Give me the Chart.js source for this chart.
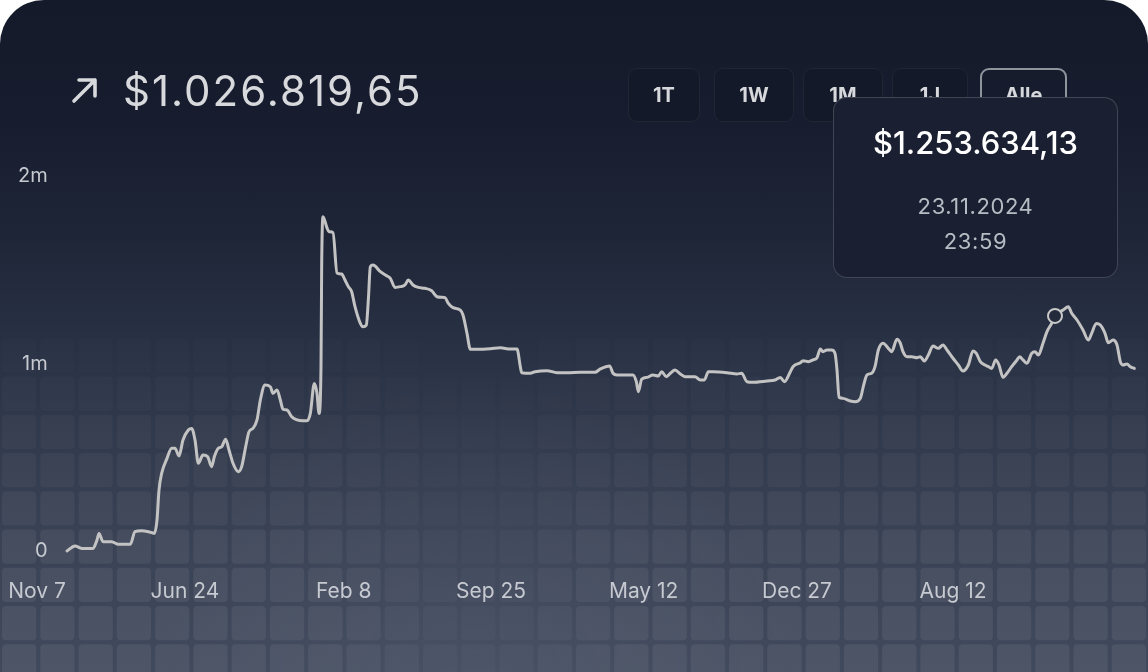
<!DOCTYPE html>
<html>
<head>
<meta charset="utf-8">
<script src="https://cdn.jsdelivr.net/npm/chart.js@4.4.1/dist/chart.umd.min.js"></script>
<style>
  html, body { margin: 0; padding: 0; background: #fff; }
  body { width: 1148px; height: 672px; overflow: hidden; font-family: Inter, "Noto Sans", sans-serif; }
  .card { position: absolute; left: 0; top: 0; width: 1148px; height: 672px; border-radius: 44px 44px 0 0; overflow: hidden;
    background: linear-gradient(180deg, #141a2a 0px, #171d2e 120px, #1e2537 230px, #283043 340px, #323a4d 440px, #3a4255 540px, #41495c 672px); }
  #bg, #chart { position: absolute; left: 0; top: 0; }
  .total { position: absolute; left: 123px; top: 66px; font-size: 42px; line-height: 50px; color: #d8d9dc; letter-spacing: 2px; font-weight: 400; }
  .arrow { position: absolute; left: 71px; top: 77px; }
  .btn { position: absolute; top: 68px; height: 54px; box-sizing: border-box; border-radius: 9px; border: 1px solid rgba(255,255,255,0.06);
    background: rgba(10,14,26,0.25); color: #d6d8dc; font-weight: 700; font-size: 20px; line-height: 52px; text-align: center; }
  .btn.active { border: 2px solid #8f939b; background: transparent; line-height: 50px; }
  .tip { position: absolute; left: 833px; top: 97px; width: 285px; height: 181px; box-sizing: border-box; border-radius: 14px;
    border: 1px solid rgba(255,255,255,0.17); background: #1a2031; text-align: center; }
  .tip .val { position: absolute; left: 0; right: 0; top: 26px; font-size: 31px; line-height: 38px; font-weight: 500; color: #fff; }
  .tip .d { position: absolute; left: 0; right: 0; font-size: 22px; line-height: 26px; color: #b7bbc3; letter-spacing: 0.6px; }
</style>
</head>
<body>
<div class="card">
  <canvas id="bg" width="1148" height="672"></canvas>
  <svg class="arrow" width="28" height="27" viewBox="0 0 28 27">
    <path d="M3 24 L24 3 M8 3 L24 3 L24 19" fill="none" stroke="#d8d9dc" stroke-width="3.6" stroke-linecap="round" stroke-linejoin="round"/>
  </svg>
  <div class="total" id="total"></div>
  <div id="buttons"></div>
  <canvas id="chart" width="1148" height="672"></canvas>
  <div class="tip">
    <div class="val" id="tipVal"></div>
    <div class="d" id="tipDate" style="top:95px"></div>
    <div class="d" id="tipTime" style="top:130px"></div>
  </div>
</div>
<script>
// day offsets (days after the first axis tick) and portfolio value in thousands of $
const days = [45, 57, 67, 84, 90, 93, 99, 112, 122, 140, 147, 157, 167, 176, 180, 183, 187, 195, 202, 207,
  213, 219, 227, 232, 237, 242, 249, 256, 262, 266, 272, 277, 283, 288, 294, 302, 307, 313, 318, 324,
  330, 335, 342, 350, 354, 360, 365, 369, 375, 382, 390, 399, 405, 410, 416, 420, 423, 426, 427, 429,
  435, 438, 444, 450, 457, 462, 467, 472, 477, 485, 489, 494, 497, 500, 504, 515, 525, 530, 537, 545,
  552, 557, 564, 572, 582, 592, 600, 607, 612, 617, 624, 635, 639, 645, 650, 660, 680, 695, 710, 720,
  725, 727, 740, 747, 765, 780, 795, 815, 837, 845, 859, 864, 870, 894, 899, 902, 907, 915, 924, 932,
  937, 944, 950, 957, 965, 972, 987, 995, 1001, 1007, 1014, 1035, 1050, 1057, 1065, 1074, 1095, 1107, 1115, 1121,
  1130, 1134, 1145, 1149, 1157, 1164, 1170, 1175, 1179, 1185, 1192, 1197, 1200, 1203, 1209, 1220, 1227, 1235, 1240, 1245,
  1252, 1257, 1262, 1269, 1277, 1282, 1290, 1295, 1299, 1305, 1312, 1320, 1325, 1331, 1337, 1344, 1352, 1359, 1365, 1374,
  1382, 1389, 1397, 1404, 1409, 1415, 1422, 1427, 1432, 1438, 1443, 1449, 1455, 1462, 1470, 1474, 1479, 1485, 1492, 1497,
  1502, 1509, 1515, 1522, 1527, 1539, 1547, 1552, 1560, 1569, 1577, 1582, 1589, 1595, 1602, 1607, 1614, 1620, 1625, 1629,
  1635, 1640, 1646];
const values = [0, 27, 14, 14, 59, 94, 50, 50, 36, 36, 103, 108, 103, 94, 165, 325, 414, 494, 548, 548,
  507, 592, 645, 654, 592, 468, 512, 503, 450, 503, 548, 556, 596, 539, 468, 423, 450, 556, 636, 654,
  699, 805, 885, 876, 841, 859, 805, 756, 752, 716, 699, 695, 695, 734, 894, 841, 734, 983, 1516, 1783,
  1723, 1703, 1698, 1483, 1477, 1445, 1410, 1383, 1303, 1214, 1196, 1205, 1339, 1516, 1525, 1490, 1467, 1454, 1406, 1410,
  1419, 1445, 1419, 1406, 1401, 1388, 1356, 1353, 1351, 1321, 1298, 1285, 1259, 1161, 1076, 1076, 1079, 1084, 1077, 1077,
  983, 951, 948, 956, 962, 951, 951, 953, 953, 971, 987, 948, 939, 939, 903, 850, 916, 926, 939, 933,
  956, 930, 948, 965, 944, 930, 930, 912, 912, 956, 956, 951, 944, 948, 903, 900, 907, 912, 926, 903,
  956, 983, 1004, 1015, 1010, 1019, 1031, 1077, 1063, 1072, 1072, 1054, 965, 820, 814, 800, 796, 814, 885, 939,
  948, 983, 1072, 1108, 1081, 1063, 1129, 1108, 1063, 1036, 1036, 1031, 1036, 1013, 1045, 1093, 1081, 1099, 1072, 1028,
  992, 960, 992, 1067, 1054, 1010, 992, 983, 974, 1019, 992, 926, 948, 983, 1019, 1036, 1019, 1001, 1054, 1063,
  1045, 1108, 1170, 1214, 1253.634, 1285, 1303, 1268, 1232, 1179, 1125, 1161, 1214, 1205, 1161, 1111, 1125, 1099, 1010, 992,
  997, 983, 974];

const tickDays = [0, 222, 460, 681, 910, 1140, 1374];
const tickLabels = ["Nov 7", "Jun 24", "Feb 8", "Sep 25", "May 12", "Dec 27", "Aug 12"];
const yTicks = [0, 1000, 2000];
const yTickLabels = ["0", "1m", "2m"];

const ranges = ["1T", "1W", "1M", "1J", "Alle"];
const activeRange = "Alle";

const currentTotal = 1026819.65;
const hoverDay = 1527;
const hoverAmount = 1253634.13;
const hoverDate = "23.11.2024";
const hoverTime = "23:59";

function fmtMoney(n) {
  const parts = n.toFixed(2).split(".");
  return "$" + parts[0].replace(/\B(?=(\d{3})+(?!\d))/g, ".") + "," + parts[1];
}

document.getElementById("total").textContent = fmtMoney(currentTotal);
document.getElementById("tipVal").textContent = fmtMoney(hoverAmount);
document.getElementById("tipDate").textContent = hoverDate;
document.getElementById("tipTime").textContent = hoverTime;

// range buttons
const btnPos = [[628, 72], [714, 80], [803, 80], [892, 76], [980, 87]];
document.getElementById("buttons").innerHTML = ranges.map((r, i) =>
  `<div class="btn${r === activeRange ? " active" : ""}" style="left:${btnPos[i][0]}px;width:${btnPos[i][1]}px">${r}</div>`
).join("");

// background tiles
const bg = document.getElementById("bg").getContext("2d");
const pitch = 1148 / 30;
for (let r = -1; r < 19; r++) {
  const y0 = 30 + r * pitch + 2;
  const cy = y0 + pitch / 2;
  let a = Math.min(Math.max((cy - 300) / 280, 0), 1);
  if (a <= 0) continue;
  for (let c = 0; c < 30; c++) {
    const x0 = c * pitch + 2;
    const cx = x0 + pitch / 2;
    const dim = 1 - 0.65 * Math.exp(-Math.pow((cx - 480) / 110, 2));
    bg.fillStyle = `rgba(255,255,255,${0.065 * a * dim})`;
    bg.beginPath();
    bg.roundRect(x0, y0, pitch - 4, pitch - 4, 4);
    bg.fill();
  }
}
const glow = bg.createRadialGradient(480, 700, 10, 480, 700, 320);
glow.addColorStop(0, "rgba(150,160,185,0.10)");
glow.addColorStop(1, "rgba(150,160,185,0)");
bg.fillStyle = glow;
bg.fillRect(0, 300, 1148, 372);

Chart.defaults.font.family = "Inter";
const hoverIdx = days.indexOf(hoverDay);

new Chart(document.getElementById("chart"), {
  type: "line",
  data: {
    datasets: [{
      data: days.map((d, i) => ({ x: d, y: values[i] })),
      borderColor: "#c3c3c3",
      borderWidth: 3,
      borderCapStyle: "round",
      borderJoinStyle: "round",
      cubicInterpolationMode: "monotone",
      fill: false,
      clip: false,
      pointRadius: ctx => ctx.dataIndex === hoverIdx ? 7 : 0,
      pointBorderWidth: 2,
      pointBorderColor: "#c8c8c8",
      pointBackgroundColor: "#232a3c"
    }]
  },
  options: {
    responsive: false,
    animation: false,
    events: [],
    layout: { padding: { top: 176, left: 0, right: 0, bottom: 0 } },
    plugins: { legend: { display: false }, tooltip: { enabled: false } },
    scales: {
      x: {
        type: "linear",
        min: -55.5,
        max: 1666.5,
        grid: { display: false },
        border: { display: false },
        afterBuildTicks: s => { s.ticks = tickDays.map(v => ({ value: v })); },
        afterFit: s => { s.height = 121; s.paddingLeft = 0; s.paddingRight = 0; },
        ticks: {
          autoSkip: false,
          maxRotation: 0,
          padding: 20,
          color: "#c6c9d0",
          font: { size: 21 },
          callback: (v, i) => tickLabels[i]
        }
      },
      y: {
        min: 0,
        max: 2000,
        grid: { display: false },
        border: { display: false },
        afterBuildTicks: s => { s.ticks = yTicks.map(v => ({ value: v })); },
        afterFit: s => { s.width = 0; },
        ticks: {
          mirror: true,
          crossAlign: "far",
          padding: 18,
          color: "#c6c9d0",
          font: { size: 20 },
          callback: (v, i) => yTickLabels[i]
        }
      }
    }
  }
});
</script>
</body>
</html>
